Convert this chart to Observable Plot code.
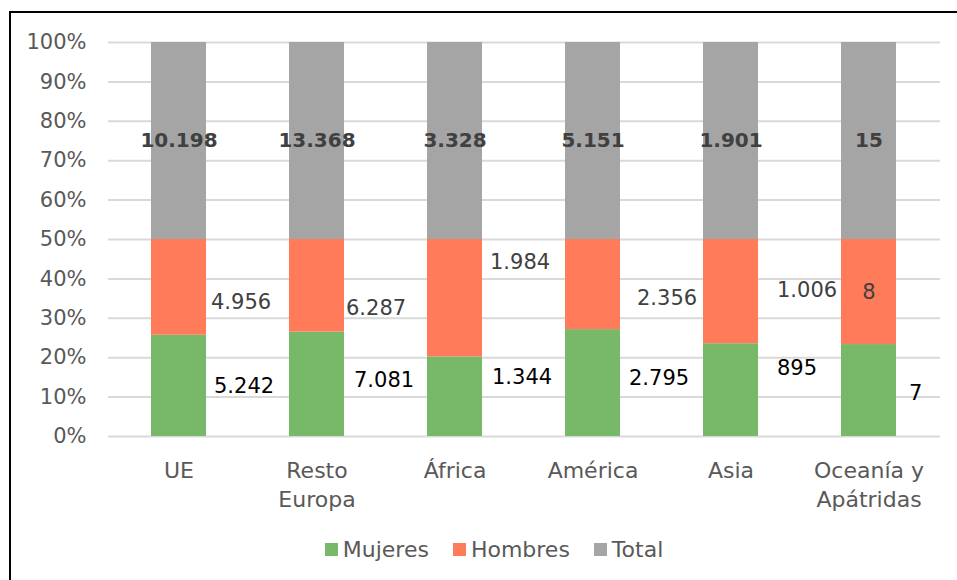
<!DOCTYPE html>
<html>
<head>
<meta charset="utf-8">
<script src="https://cdn.jsdelivr.net/npm/d3@7"></script>
<script src="https://cdn.jsdelivr.net/npm/@observablehq/plot@0.6"></script>
<style>
  html, body { margin: 0; padding: 0; background: #fff; }
  body { width: 957px; height: 580px; position: relative; overflow: hidden; font-family: "DejaVu Sans", sans-serif; }
  #frame { position: absolute; left: 9px; top: 11px; width: 968px; height: 620px; border: 2px solid #000; box-sizing: border-box; pointer-events: none; }
  #chart { position: absolute; left: 0; top: 0; }
  #legend { position: absolute; left: 10px; width: 968px; top: 537px; display: flex; justify-content: center; align-items: center; gap: 0; font-size: 22px; color: #595959; }
  #legend .item { display: flex; align-items: center; margin: 0 12px; }
  #legend .sw { width: 13px; height: 13px; margin-right: 5px; }
</style>
</head>
<body>
<div id="chart"></div>
<div id="legend"></div>
<div id="frame"></div>
<script>
const categories = ["UE", "Resto Europa", "África", "América", "Asia", "Oceanía y Apátridas"];
const tickLabels = ["UE", "Resto\nEuropa", "África", "América", "Asia", "Oceanía y\nApátridas"];
const mujeres = [5242, 7081, 1344, 2795, 895, 7];
const hombres = [4956, 6287, 1984, 2356, 1006, 8];
const total = [10198, 13368, 3328, 5151, 1901, 15];
const series = ["Mujeres", "Hombres", "Total"];
const colors = ["#77b968", "#ff7b5a", "#a5a5a5"];
const yTicks = [0, 0.1, 0.2, 0.3, 0.4, 0.5, 0.6, 0.7, 0.8, 0.9, 1];

const es = d3.formatLocale({decimal: ",", thousands: ".", grouping: [3], currency: ["", " €"]});
const fmt = es.format(",d");

// long table
const rows = [];
categories.forEach((c, i) => {
  rows.push({cat: c, series: "Mujeres", value: mujeres[i]});
  rows.push({cat: c, series: "Hombres", value: hombres[i]});
  rows.push({cat: c, series: "Total", value: total[i]});
});

// label placement (manual nudges in px, as in the original chart)
const mujNudge = [[7, 0], [9, -4], [9, -19], [8, -5], [18, -22], [12, 3]];
const homNudge = [[4, 15], [1, 22], [7, -36], [16, 14], [18, -1], null];

const labelMarks = [];
categories.forEach((c, i) => {
  const sum = mujeres[i] + hombres[i] + total[i];
  const fM = mujeres[i] / sum, fH = hombres[i] / sum, fT = total[i] / sum;
  const midM = fM / 2, midH = fM + fH / 2, midT = fM + fH + fT / 2;
  const half = 28;
  labelMarks.push(Plot.text([{cat: c, y: midM}], {
    x: "cat", y: "y", text: () => fmt(mujeres[i]), textAnchor: "start",
    dx: half + mujNudge[i][0], dy: mujNudge[i][1], fill: "#000", fontSize: 21
  }));
  if (homNudge[i]) {
    labelMarks.push(Plot.text([{cat: c, y: midH}], {
      x: "cat", y: "y", text: () => fmt(hombres[i]), textAnchor: "start",
      dx: half + homNudge[i][0], dy: homNudge[i][1], fill: "#404040", fontSize: 21
    }));
  } else {
    labelMarks.push(Plot.text([{cat: c, y: midH}], {
      x: "cat", y: "y", text: () => fmt(hombres[i]), fill: "#404040", fontSize: 21
    }));
  }
  labelMarks.push(Plot.text([{cat: c, y: midT}], {
    x: "cat", y: "y", text: () => fmt(total[i]), fill: "#404040", fontSize: 20, fontWeight: "bold"
  }));
});

const chart = Plot.plot({
  width: 957,
  height: 520,
  marginLeft: 108,
  marginRight: 17,
  marginTop: 42,
  marginBottom: 84,
  style: {fontFamily: "DejaVu Sans, sans-serif", fontSize: "21px", color: "#595959", background: "transparent"},
  x: {domain: categories, paddingInner: 0.6, paddingOuter: 0.3, label: null},
  y: {domain: [0, 1], label: null},
  color: {domain: series, range: colors},
  marks: [
    Plot.ruleY(yTicks, {stroke: "#d9d9d9", strokeWidth: 2}),
    Plot.barY(rows, Plot.stackY({x: "cat", y: "value", fill: "series", offset: "normalize", order: series})),
    Plot.axisY({ticks: yTicks, tickFormat: d3.format(".0%"), tickSize: 0, tickPadding: 22, fill: "#595959", fontSize: 21}),
    Plot.axisX({tickSize: 0, tickPadding: 20, tickFormat: (d) => tickLabels[categories.indexOf(d)], lineHeight: 1.35, fill: "#595959", fontSize: 22}),
    ...labelMarks
  ]
});
document.getElementById("chart").appendChild(chart);

const legend = document.getElementById("legend");
series.forEach((s, i) => {
  const item = document.createElement("div");
  item.className = "item";
  const sw = document.createElement("div");
  sw.className = "sw";
  sw.style.background = colors[i];
  const t = document.createElement("span");
  t.textContent = s;
  item.appendChild(sw);
  item.appendChild(t);
  legend.appendChild(item);
});
</script>
</body>
</html>
